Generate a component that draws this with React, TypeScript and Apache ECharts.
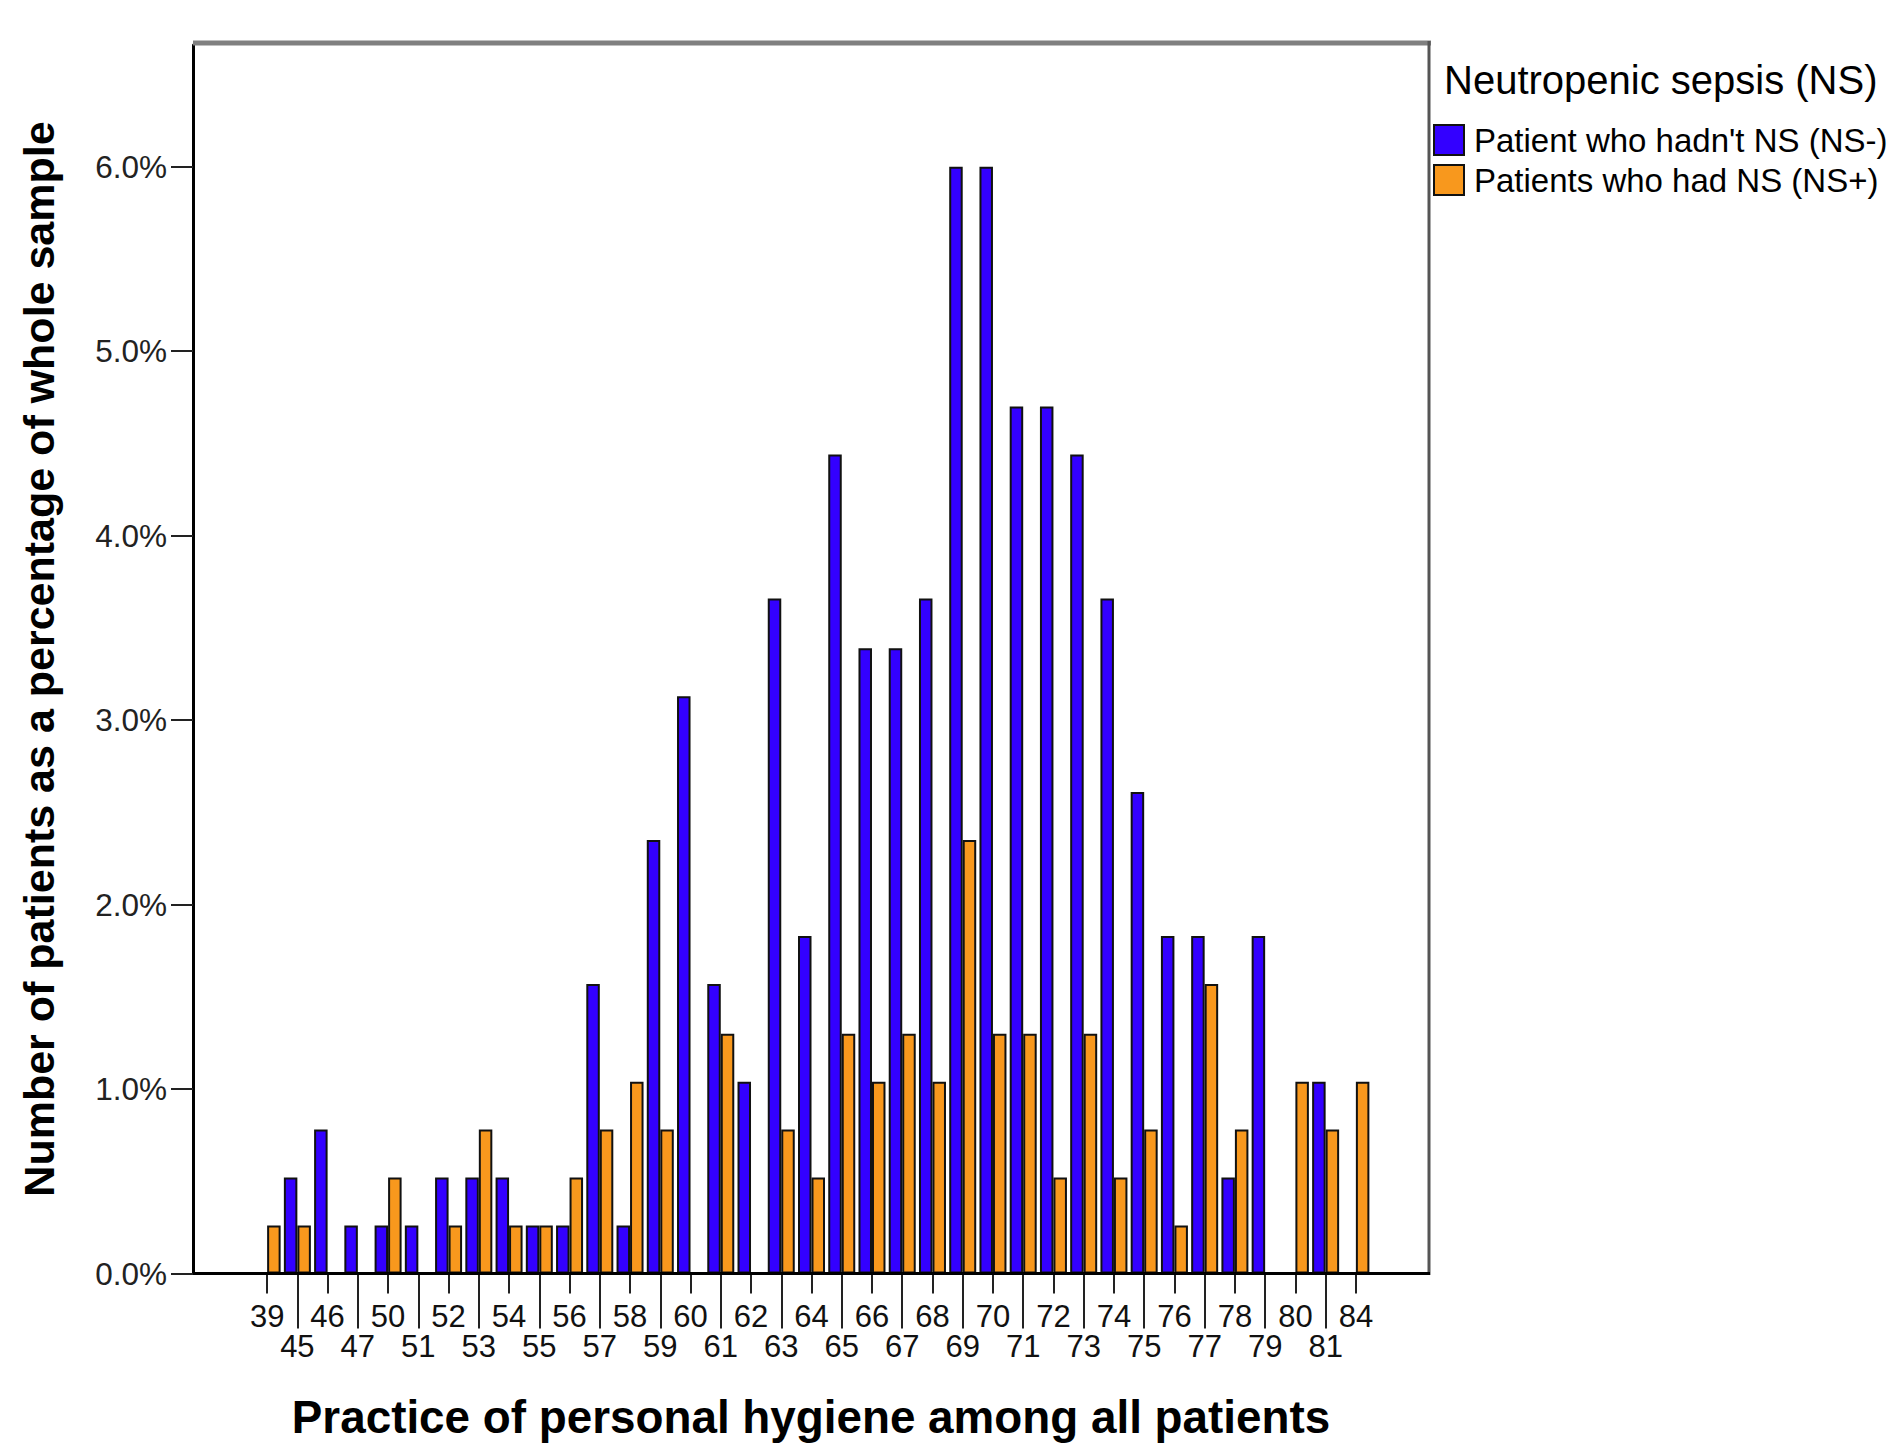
import React, { useEffect, useRef } from "react";
import * as echarts from "echarts";

const categories = [
  "39", "45", "46", "47", "50", "51", "52", "53", "54", "55", "56", "57", "58",
  "59", "60", "61", "62", "63", "64", "65", "66", "67", "68", "69", "70", "71",
  "72", "73", "74", "75", "76", "77", "78", "79", "80", "81", "84",
];

const nsNegative = [
  0, 0.52, 0.78, 0.26, 0.26, 0.26, 0.52, 0.52, 0.52, 0.26, 0.26, 1.57, 0.26,
  2.35, 3.13, 1.57, 1.04, 3.66, 1.83, 4.44, 3.39, 3.39, 3.66, 6.0, 6.0, 4.7,
  4.7, 4.44, 3.66, 2.61, 1.83, 1.83, 0.52, 1.83, 0, 1.04, 0,
];

const nsPositive = [
  0.26, 0.26, 0, 0, 0.52, 0, 0.26, 0.78, 0.26, 0.26, 0.52, 0.78, 1.04,
  0.78, 0, 1.3, 0, 0.78, 0.52, 1.3, 1.04, 1.3, 1.04, 2.35, 1.3, 1.3,
  0.52, 1.3, 0.52, 0.78, 0.26, 1.57, 0.78, 0, 1.04, 0.78, 1.04,
];

const yTickValues = [0, 1, 2, 3, 4, 5, 6];

const seriesNames = ["Patient who hadn't NS (NS-)", "Patients who had NS (NS+)"];
const legendTitle = "Neutropenic sepsis (NS)";
const xTitle = "Practice of personal hygiene among all patients";
const yTitle = "Number of patients as a percentage of whole sample";

const FONT = '"Liberation Sans", Arial, sans-serif';

export default function App() {
  const ref = useRef<HTMLDivElement>(null);

  useEffect(() => {
    if (!ref.current) return;
    const chart = echarts.init(ref.current, undefined, { renderer: "svg" });

    const tickStyle = { color: "#222", width: 2 };

    const option: any = {
      animation: false,
      backgroundColor: "#ffffff",
      textStyle: { fontFamily: FONT },
      grid: {
        left: 252,
        right: 526,
        top: 45,
        bottom: 181.5,
        containLabel: false,
        outerBoundsMode: "none",
      },
      legend: {
        orient: "vertical",
        left: 1433,
        top: 123,
        padding: 0,
        itemWidth: 30,
        itemHeight: 30,
        itemGap: 6,
        icon: "rect",
        data: seriesNames,
        textStyle: {
          fontSize: 33,
          color: "#000",
          fontFamily: FONT,
          lineHeight: 30,
          padding: [4, 0, 0, 5],
        },
      },
      xAxis: [
        {
          type: "category",
          data: categories,
          position: "bottom",
          axisLine: { show: false },
          axisTick: { show: true, alignWithLabel: true, length: 20, lineStyle: tickStyle },
          axisLabel: {
            interval: 0,
            hideOverlap: false,
            fontSize: 31,
            lineHeight: 30,
            margin: 28,
            color: "#111",
            fontFamily: FONT,
            formatter: (v: string, i: number) => (i % 2 === 1 ? "\n" + v : v),
          },
          splitLine: { show: false },
        },
        {
          type: "category",
          data: categories,
          position: "bottom",
          axisLine: { show: false },
          axisTick: {
            show: true,
            alignWithLabel: true,
            length: 55,
            interval: (i: number) => i % 2 === 1,
            lineStyle: tickStyle,
          },
          axisLabel: { show: false },
          splitLine: { show: false },
        },
      ],
      yAxis: {
        type: "value",
        min: 0,
        max: 6.66,
        offset: 59,
        axisLine: { show: true, lineStyle: { color: "#000", width: 3 } },
        axisTick: { show: true, length: 22, customValues: yTickValues, lineStyle: tickStyle },
        axisLabel: {
          customValues: yTickValues,
          formatter: (v: number) => v.toFixed(1) + "%",
          fontSize: 31.5,
          margin: 26,
          color: "#222",
          fontFamily: FONT,
        },
        splitLine: { show: false },
      },
      series: [
        {
          name: seriesNames[0],
          type: "bar",
          data: nsNegative,
          barWidth: 13.5,
          barGap: "0%",
          itemStyle: { color: "#3300FF", borderColor: "#111", borderWidth: 2 },
        },
        {
          name: seriesNames[1],
          type: "bar",
          data: nsPositive,
          barWidth: 13.5,
          barGap: "0%",
          itemStyle: { color: "#F8981D", borderColor: "#111", borderWidth: 2 },
        },
      ],
      graphic: [
        {
          type: "line",
          z: 10,
          shape: { x1: 193, y1: 43, x2: 1431, y2: 43 },
          style: { stroke: "#808080", lineWidth: 5 },
        },
        {
          type: "line",
          z: 10,
          shape: { x1: 1429, y1: 41, x2: 1429, y2: 1275 },
          style: { stroke: "#555", lineWidth: 3 },
        },
        {
          type: "line",
          z: 10,
          shape: { x1: 193, y1: 1273.5, x2: 1430, y2: 1273.5 },
          style: { stroke: "#000", lineWidth: 3 },
        },
        {
          type: "text",
          x: 1444,
          y: 80,
          style: {
            text: legendTitle,
            fontSize: 40,
            fontFamily: FONT,
            fill: "#000",
            align: "left",
            verticalAlign: "middle",
          },
        },
        {
          type: "text",
          x: 811,
          y: 1417,
          style: {
            text: xTitle,
            fontSize: 45.8,
            fontWeight: "bold",
            fontFamily: FONT,
            fill: "#000",
            align: "center",
            verticalAlign: "middle",
          },
        },
        {
          type: "text",
          x: 39,
          y: 659,
          rotation: Math.PI / 2,
          style: {
            text: yTitle,
            fontSize: 43,
            fontWeight: "bold",
            fontFamily: FONT,
            fill: "#000",
            align: "center",
            verticalAlign: "middle",
          },
        },
      ],
    };

    chart.setOption(option);
    return () => chart.dispose();
  }, []);

  return (
    <div
      ref={ref}
      style={{ position: "fixed", left: 0, top: 0, width: 1897, height: 1455, background: "#fff" }}
    />
  );
}
